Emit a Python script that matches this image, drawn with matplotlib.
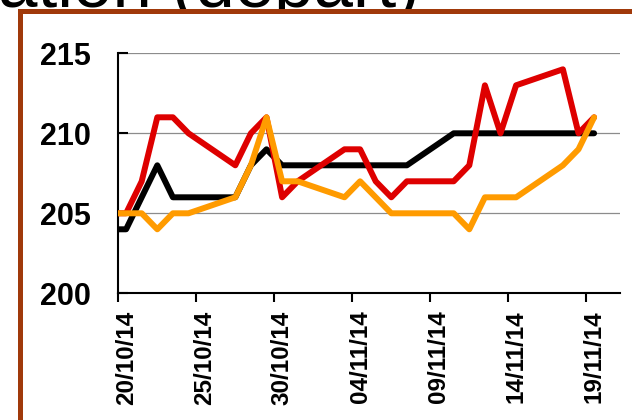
import datetime as dt
import matplotlib
matplotlib.use("Agg")
import matplotlib.pyplot as plt
from matplotlib.patches import Rectangle
from matplotlib.transforms import ScaledTranslation

# ---- data ----
dates = ["17/10/14", "20/10/14", "21/10/14", "22/10/14", "23/10/14", "24/10/14",
         "27/10/14", "28/10/14", "29/10/14", "30/10/14", "31/10/14",
         "03/11/14", "04/11/14", "05/11/14", "06/11/14", "07/11/14",
         "10/11/14", "11/11/14", "12/11/14", "13/11/14", "14/11/14",
         "17/11/14", "18/11/14", "19/11/14"]
black_vals = [204, 204, 206, 208, 206, 206, 206, 208, 209, 208, 208,
              208, 208, 208, 208, 208, 210, 210, 210, 210, 210, 210, 210, 210]
red_vals = [205, 205, 207, 211, 211, 210, 208, 210, 211, 206, 207,
            209, 209, 207, 206, 207, 207, 208, 213, 210, 213, 214, 210, 211]
orange_vals = [205, 205, 205, 204, 205, 205, 206, 208, 211, 207, 207,
               206, 207, 206, 205, 205, 205, 204, 206, 206, 206, 208, 209, 211]
tick_labels = ["20/10/14", "25/10/14", "30/10/14", "04/11/14", "09/11/14", "14/11/14", "19/11/14"]
y_ticks = [200, 205, 210, 215]
title_text = "ation (départ)"

FONT = ["Liberation Sans", "DejaVu Sans"]
plt.rcParams["font.family"] = FONT

x = [dt.datetime.strptime(d, "%d/%m/%y") + dt.timedelta(hours=12) for d in dates]
xt = [dt.datetime.strptime(d, "%d/%m/%y") for d in tick_labels]

fig = plt.figure(figsize=(6.32, 4.2), dpi=100)

# cropped title text
fig.text(-2 / 632, 1 - 7 / 420, title_text, fontsize=51, ha="left", va="baseline",
         color="black", zorder=0.5)

# brown frame with white fill covering the lower part of the title
frame = Rectangle((20 / 632, -0.2), 1.5, (1 - 11 / 420) + 0.2, transform=fig.transFigure,
                  facecolor="white", edgecolor="#A0390A", linewidth=3.6, zorder=1)
fig.add_artist(frame)

ax = fig.add_axes([118.3 / 632, 1 - 293.3 / 420, (620 - 118.3) / 632, (293.3 - 53.3) / 420])
ax.set_zorder(2)
ax.set_facecolor("none")

lw = 4.3
ax.plot(x, black_vals, color="black", lw=lw, solid_capstyle="round", solid_joinstyle="round", zorder=3)
ax.plot(x, red_vals, color="#DE0000", lw=lw, solid_capstyle="round", solid_joinstyle="round", zorder=4)
ax.plot(x, orange_vals, color="#FF9B00", lw=lw, solid_capstyle="round", solid_joinstyle="round", zorder=5)

x0 = dt.datetime(2014, 10, 20)
ax.set_xlim(x0, x0 + dt.timedelta(days=32.16))
ax.set_ylim(200, 215)

ax.set_yticks(y_ticks)
ax.set_yticklabels([str(v) for v in y_ticks], fontsize=22, fontweight="bold")
ax.set_xticks(xt)
ax.set_xticklabels(tick_labels, fontsize=17.5, fontweight="bold", rotation=90)

for v in y_ticks[1:]:
    ax.axhline(v, color="#8C8C8C", lw=0.9, zorder=1)

for s in ["top", "right"]:
    ax.spines[s].set_visible(False)
for s in ["left", "bottom"]:
    ax.spines[s].set_linewidth(1.5)
    ax.spines[s].set_color("black")

ax.tick_params(axis="y", direction="in", length=7.5, width=1.5, pad=20, color="black")
ax.tick_params(axis="x", direction="out", length=6.5, width=1.5, pad=6, color="black")

offset = ScaledTranslation(8 / 100, 0, fig.dpi_scale_trans)
for lab in ax.get_xticklabels():
    lab.set_transform(lab.get_transform() + offset)

fig.savefig("out.png", dpi=100)
